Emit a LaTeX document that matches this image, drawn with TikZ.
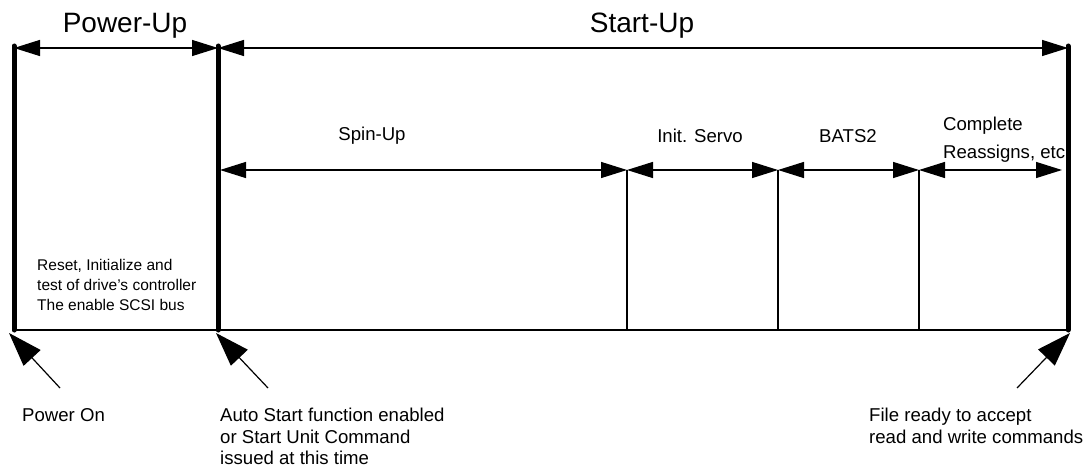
\documentclass[tikz,border=0pt]{standalone}
\usepackage{fontspec}
\setmainfont{Liberation Sans}
\usetikzlibrary{arrows.meta}
\begin{document}
\begin{tikzpicture}[x=1pt,y=-1pt,
  span/.style={line width=1.3pt,
    {Triangle[length=26pt,width=16pt]}-{Triangle[length=26pt,width=16pt]}},
  marker/.style={line width=5pt,line cap=round},
  divider/.style={line width=1.2pt},
  pointer/.style={line width=1.2pt,-{Triangle[length=34pt,width=23pt]}},
  title/.style={font=\fontsize{28}{34}\selectfont,inner sep=0pt},
  label/.style={font=\fontsize{18.6}{24}\selectfont,inner sep=0pt},
  note/.style={font=\fontsize{18.6}{21.5}\selectfont,inner sep=0pt,align=left,anchor=north west},
  small/.style={font=\fontsize{15.5}{20}\selectfont,inner sep=0pt,align=left,anchor=north west}]
\useasboundingbox (0,0) rectangle (1084,468);

% phase boundaries
\coordinate (onT)  at (14,46);   \coordinate (onB)  at (14,330);
\coordinate (stT)  at (218,46);  \coordinate (stB)  at (218,330);
\coordinate (rdT)  at (1068,46); \coordinate (rdB)  at (1068,330);
% top spans
\coordinate (a0) at (14,48);  \coordinate (a1) at (218,48);  \coordinate (a2) at (1068,48);
% sub-phase spans
\coordinate (s0) at (220,170); \coordinate (s1) at (627,170);
\coordinate (s2) at (778,170); \coordinate (s3) at (919,170);
\coordinate (s4) at (1062,170);
\coordinate (s1b) at (627,330); \coordinate (s2b) at (778,330); \coordinate (s3b) at (919,330);

% time base and dividers
\draw[divider] (onB) -- (rdB);
\draw[divider] (s1) -- (s1b);
\draw[divider] (s2) -- (s2b);
\draw[divider] (s3) -- (s3b);

% spans
\draw[span] (a0) -- (a1);
\draw[span] (a1) -- (a2);
\draw[span] (s0) -- (s1);
\draw[span] (s1) -- (s2);
\draw[span] (s2) -- (s3);
\draw[span] (s3) -- (s4);

% thick event markers
\draw[marker] (onT) -- (onB);
\draw[marker] (stT) -- (stB);
\draw[marker] (rdT) -- (rdB);

% titles
\node[title] (powerup) at (125,26) {Power-Up};
\node[title] (startup) at (642,26) {Start-Up};

% sub-phase labels
\node[label] (spin)  at (372,136) {Spin-Up};
\node[label] (servo) at (700,136) {Init. Servo};
\node[label] (bats)  at (848,136) {BATS2};
\node[note,font=\fontsize{18.6}{24}\selectfont] (reass) at (943,117) {Complete\\[4pt]Reassigns, etc};

\node[small] (reset) at (37,259) {Reset, Initialize and\\test of drive's controller\\The enable SCSI bus};

% event pointers
\coordinate (p1) at (60,388);   \coordinate (q1) at (9,333);
\coordinate (p2) at (268,388);  \coordinate (q2) at (216,333);
\coordinate (p3) at (1017,388); \coordinate (q3) at (1070,333);
\draw[pointer] (p1) -- (q1);
\draw[pointer] (p2) -- (q2);
\draw[pointer] (p3) -- (q3);

\node[note] (pon)  at (22,408)  {Power On};
\node[note] (auto) at (220,408) {Auto Start function enabled\\or Start Unit Command\\issued at this time};
\node[note,font=\fontsize{18.6}{22}\selectfont] (ready) at (869,408) {File ready to accept\\read and write commands};
\end{tikzpicture}
\end{document}
